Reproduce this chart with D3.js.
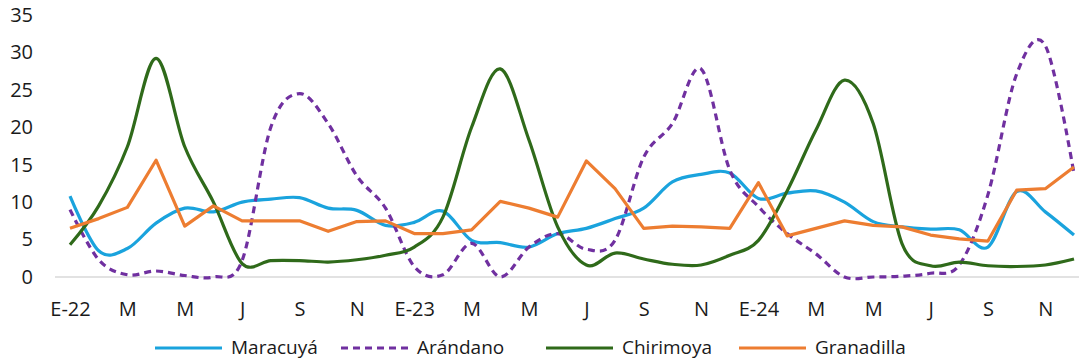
<!DOCTYPE html>
<html>
<head>
<meta charset="utf-8">
<script src="https://cdn.jsdelivr.net/npm/d3@7"></script>
<style>
  html, body { margin: 0; padding: 0; background: #fff; }
  svg { display: block; }
  text { font-family: "Open Sans", "Liberation Sans", sans-serif; fill: #1a1a1a; }
</style>
</head>
<body>
<svg id="chart" width="1079" height="360"></svg>
<script>
// ---- data ----
const months = [
  "E-22","F-22","M-22","A-22","M-22b","J-22","J-22b","A-22b","S-22","O-22","N-22","D-22",
  "E-23","F-23","M-23","A-23","M-23b","J-23","J-23b","A-23b","S-23","O-23","N-23","D-23",
  "E-24","F-24","M-24","A-24","M-24b","J-24","J-24b","A-24b","S-24","O-24","N-24","D-24"
];
const tickLabels = ["E-22","M","M","J","S","N","E-23","M","M","J","S","N","E-24","M","M","J","S","N"];
const yTicks = [0, 5, 10, 15, 20, 25, 30, 35];

const maracuya = [10.8, 3.5, 3.8, 7.2, 9.2, 8.7, 10.0, 10.4, 10.6, 9.2, 8.9, 6.9,
                  7.3, 8.8, 4.9, 4.6, 4.0, 5.8, 6.5, 7.8, 9.2, 12.7, 13.7, 13.9,
                  10.5, 11.2, 11.5, 10.0, 7.4, 6.7, 6.4, 6.3, 4.0, 11.4, 8.7, 5.6];
const arandano = [9.0, 2.3, 0.3, 0.8, 0.2, 0.0, 2.2, 20.0, 24.5, 20.5, 13.5, 9.2,
                  1.4, 0.3, 4.5, 0.0, 4.0, 5.8, 3.7, 4.9, 16.0, 20.5, 27.8, 14.3,
                  9.4, 5.8, 3.1, 0.0, 0.0, 0.1, 0.5, 1.6, 11.0, 27.1, 30.9, 13.8];
const chirimoya = [4.3, 9.5, 17.4, 29.2, 17.4, 10.0, 1.8, 2.2, 2.2, 2.0, 2.3, 2.9,
                   4.0, 8.0, 20.0, 27.8, 18.3, 6.7, 1.6, 3.2, 2.4, 1.7, 1.6, 2.9,
                   4.9, 11.5, 19.6, 26.3, 20.5, 4.5, 1.5, 2.0, 1.5, 1.4, 1.6, 2.4];
const granadilla = [6.5, 7.8, 9.3, 15.6, 6.8, 9.5, 7.5, 7.5, 7.5, 6.1, 7.4, 7.5,
                    5.8, 5.8, 6.3, 10.1, 9.2, 8.0, 15.5, 11.8, 6.5, 6.8, 6.7, 6.5,
                    12.6, 5.5, 6.5, 7.5, 6.9, 6.7, 5.6, 5.1, 4.8, 11.6, 11.8, 14.7];

const seriesNames = ["Maracuyá", "Arándano", "Chirimoya", "Granadilla"];
const seriesValues = [maracuya, arandano, chirimoya, granadilla];
const seriesColors = ["#1AA3DD", "#7030A0", "#2F6A1A", "#ED7D31"];
const seriesDash = [null, "7,5", null, null];
const seriesSmooth = [true, true, true, false];

// ---- layout ----
const svg = d3.select("#chart");
const x = d3.scalePoint().domain(months).range([70, 1074]);
const y = d3.scaleLinear().domain([0, 35]).range([277, 15]);

// baseline
svg.append("line")
  .attr("x1", 55).attr("x2", 1079)
  .attr("y1", y(0)).attr("y2", y(0))
  .attr("stroke", "#d9d9d9").attr("stroke-width", 1.5);

// y axis labels
const yAxis = d3.axisLeft(y).tickValues(yTicks).tickSize(0).tickPadding(0);
svg.append("g").attr("transform", "translate(33,0)").call(yAxis)
  .call(g => g.select(".domain").remove())
  .selectAll("text").style("font-size", "20px").attr("fill", "#1a1a1a")
  .attr("font-family", null);

// x axis labels (every second month)
const tickMonths = months.filter((d, i) => i % 2 === 0);
const xAxis = d3.axisBottom(x).tickValues(tickMonths)
  .tickFormat((d, i) => tickLabels[i]).tickSize(0).tickPadding(0);
svg.append("g").attr("transform", "translate(0,302)").call(xAxis)
  .call(g => g.select(".domain").remove())
  .selectAll("text").style("font-size", "20px").attr("fill", "#1a1a1a")
  .attr("font-family", null);

// lines
seriesValues.forEach((vals, s) => {
  const line = d3.line()
    .x((d, i) => x(months[i]))
    .y(d => y(d))
    .curve(seriesSmooth[s] ? d3.curveCatmullRom.alpha(0) : d3.curveLinear);
  svg.append("path")
    .datum(vals)
    .attr("d", line)
    .attr("fill", "none")
    .attr("stroke", seriesColors[s])
    .attr("stroke-width", 3.2)
    .attr("stroke-linejoin", "round")
    .attr("stroke-dasharray", seriesDash[s]);
});

// legend
const legendX = [155, 341, 546, 739];
const legend = svg.append("g");
seriesNames.forEach((name, s) => {
  legend.append("line")
    .attr("x1", legendX[s]).attr("x2", legendX[s] + 67)
    .attr("y1", 348).attr("y2", 348)
    .attr("stroke", seriesColors[s]).attr("stroke-width", 3.2)
    .attr("stroke-dasharray", seriesDash[s]);
  legend.append("text")
    .attr("x", legendX[s] + 76).attr("y", 354)
    .style("font-size", "19px")
    .text(name);
});
</script>
</body>
</html>
